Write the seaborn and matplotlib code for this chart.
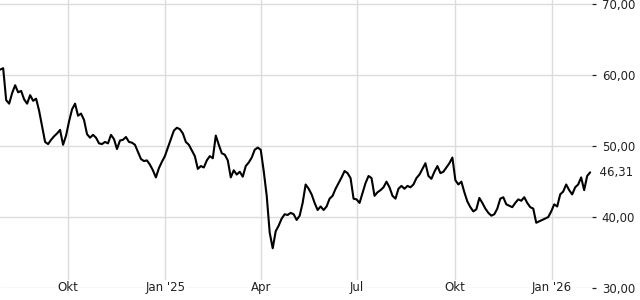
import numpy as np
import pandas as pd
import matplotlib
matplotlib.use("Agg")
import matplotlib.pyplot as plt
import matplotlib.transforms as mtransforms
import seaborn as sns

# ---- data ----
start_date = "2024-07-29"
end_date = "2026-02-06"
prices = [
    60.8, 61.0, 56.5, 56.0, 57.5, 58.6, 57.6, 57.8, 56.6, 56.0,
    57.2, 56.4, 56.7, 55.0, 52.8, 50.6, 50.3, 50.9, 51.4, 51.8,
    52.3, 50.2, 51.5, 53.5, 55.2, 56.0, 54.3, 54.6, 53.7, 51.7,
    51.2, 51.6, 51.2, 50.4, 50.3, 50.6, 50.4, 51.6, 51.0, 49.6,
    50.8, 50.9, 51.3, 50.6, 50.5, 50.2, 49.2, 48.2, 47.9, 48.0,
    47.4, 46.6, 45.6, 46.9, 47.8, 48.6, 49.8, 51.0, 52.2, 52.6,
    52.4, 51.8, 50.6, 50.2, 49.4, 48.6, 46.8, 47.2, 47.0, 48.0,
    48.6, 48.3, 51.5, 50.2, 49.0, 48.8, 48.0, 45.6, 46.6, 46.0,
    46.4, 45.7, 47.2, 47.7, 48.4, 49.5, 49.8, 49.5, 46.5, 43.0,
    37.8, 35.6, 38.0, 38.8, 39.8, 40.4, 40.3, 40.6, 40.4, 39.6,
    40.2, 42.0, 44.6, 44.0, 43.2, 42.0, 41.0, 41.5, 41.0, 41.5,
    42.6, 43.0, 44.0, 44.8, 45.6, 46.5, 46.2, 45.5, 42.6, 42.5,
    42.0, 43.4, 44.8, 45.8, 45.5, 43.0, 43.5, 43.8, 44.2, 45.0,
    44.2, 43.0, 42.6, 44.0, 44.4, 44.0, 44.4, 44.2, 44.6, 45.5,
    46.0, 46.8, 47.6, 45.8, 45.4, 46.4, 47.2, 46.2, 46.4, 47.0,
    47.6, 48.4, 45.2, 44.6, 45.0, 43.5, 42.2, 41.4, 40.8, 41.1,
    42.7, 42.0, 41.2, 40.6, 40.2, 40.4, 41.2, 42.6, 42.8, 41.8,
    41.6, 41.4, 42.0, 42.5, 42.3, 42.8, 42.0, 41.4, 41.2, 39.2,
    39.4, 39.6, 39.8, 40.0, 40.8, 41.8, 41.5, 43.2, 43.6, 44.6,
    43.8, 43.2, 44.2, 44.6, 45.6, 43.8, 45.8, 46.31,
]
last_price_label = "46,31"
month_ticks = ["2024-10-01", "2025-01-01", "2025-04-01", "2025-07-01", "2025-10-01", "2026-01-01"]
month_labels = ["Okt", "Jan '25", "Apr", "Jul", "Okt", "Jan '26"]
y_ticks = [30, 40, 50, 60, 70]
y_labels = ["30,00", "40,00", "50,00", "60,00", "70,00"]

df = pd.DataFrame({
    "date": pd.date_range(start_date, end_date, periods=len(prices)),
    "price": prices,
})

sns.set_style("white")
plt.rcParams["font.family"] = ["DejaVu Sans"]

fig = plt.figure(figsize=(6.4, 3.0), dpi=100)
ax = fig.add_axes([0.0, 0.04, 592 / 640, 0.96])

grid_c = "#dcdcdc"
sns.lineplot(data=df, x="date", y="price", color="black", linewidth=1.5, ax=ax, zorder=3)

ax.set_xlim(pd.Timestamp("2024-07-28 20:00"), pd.Timestamp("2026-02-07 18:00"))
ax.set_ylim(30, 70.62)

# y axis on the right
ax.yaxis.tick_right()
ax.set_yticks(y_ticks)
ax.set_yticklabels(y_labels)
ax.tick_params(axis="y", direction="out", length=3, width=0.9, color="#222222",
               pad=4, labelsize=8.5, labelcolor="#222222")

# x ticks
xt = pd.to_datetime(month_ticks)
ax.set_xticks(xt)
ax.set_xticklabels([])
ax.tick_params(axis="x", direction="out", length=6.5, width=1.0, color="#222222")

ax.grid(True, color=grid_c, linewidth=1.0, zorder=0)
for s in ax.spines.values():
    s.set_visible(False)
ax.set_xlabel("")
ax.set_ylabel("")

trans = mtransforms.blended_transform_factory(ax.transData, ax.transData)
for d, lab in zip(xt, month_labels):
    ax.text(d, 30.1, lab, ha="center", va="center", fontsize=8.5, color="#222222",
            transform=trans, zorder=4, clip_on=False,
            bbox=dict(facecolor="white", edgecolor="none", pad=0.5))

ax.text(1.0, prices[-1], "  " + last_price_label, transform=mtransforms.blended_transform_factory(ax.transAxes, ax.transData),
        ha="left", va="center", fontsize=8.5, color="#222222", clip_on=False)

fig.savefig("out.png", dpi=100)
